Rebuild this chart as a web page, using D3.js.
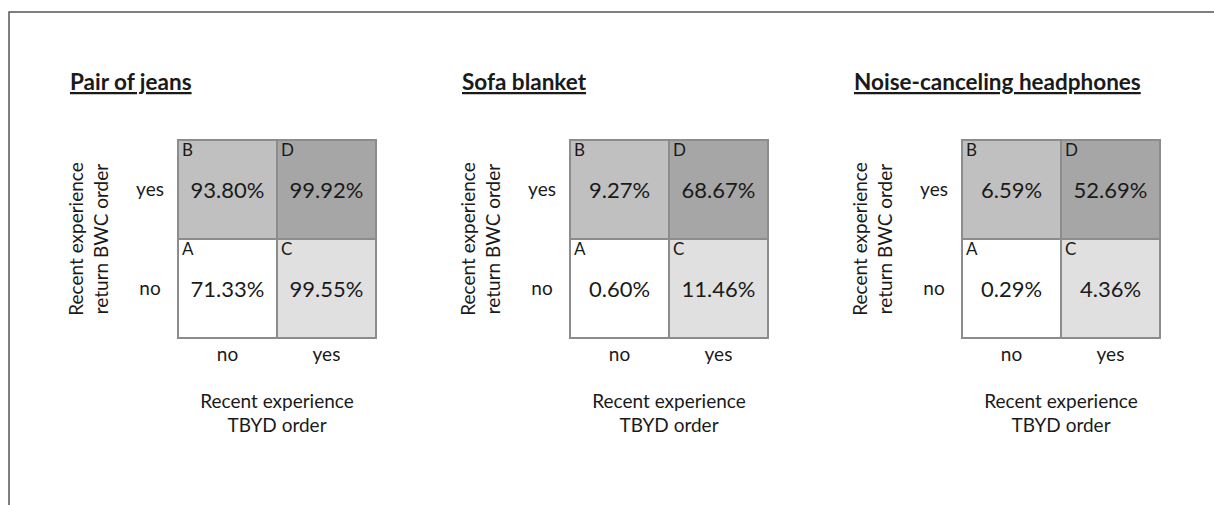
<!DOCTYPE html>
<html>
<head>
<meta charset="utf-8">
<script src="https://cdn.jsdelivr.net/npm/d3@7"></script>
<style>
  body { margin: 0; background: #fff; }
  svg { display: block; font-family: Lato, "Open Sans", sans-serif; }
  text { fill: #1a1a1a; }
</style>
</head>
<body>
<svg width="1214" height="505"></svg>
<script>
// data
const products = ["Pair of jeans", "Sofa blanket", "Noise-canceling headphones"];
const tbydLevels = ["no", "yes"];   // x: recent TBYD order
const bwcLevels = ["yes", "no"];    // y: recent return BWC order (top to bottom)
const cellLetters = ["A", "B", "C", "D"];
const cellTbyd = ["no", "no", "yes", "yes"];
const cellBwc = ["no", "yes", "no", "yes"];
const jeansValues = [71.33, 93.80, 99.55, 99.92];
const blanketValues = [0.60, 9.27, 11.46, 68.67];
const headphoneValues = [0.29, 6.59, 4.36, 52.69];
const allValues = [jeansValues, blanketValues, headphoneValues];

const svg = d3.select("svg");

// frame round the figure
svg.append("path")
  .attr("d", "M9,505 L9,12 L1214,12")
  .attr("fill", "none")
  .attr("stroke", "#555")
  .attr("stroke-width", 1.5);

const cellFill = d3.scaleOrdinal()
  .domain(cellLetters)
  .range(["#ffffff", "#c0c0c0", "#e0e0e0", "#a6a6a6"]);

const panelX = d3.scalePoint().domain(products).range([178, 962]);
const gridSize = 198;

products.forEach((name, p) => {
  const g = svg.append("g")
    .attr("transform", `translate(${panelX(name)},140)`);

  const x = d3.scaleBand().domain(tbydLevels).range([0, gridSize]);
  const y = d3.scaleBand().domain(bwcLevels).range([0, gridSize]);

  const cells = cellLetters.map((c, i) => ({
    letter: c, tbyd: cellTbyd[i], bwc: cellBwc[i], value: allValues[p][i]
  }));

  // title
  g.append("text")
    .attr("x", -108).attr("y", -50)
    .attr("font-size", 22.5).attr("font-weight", "bold")
    .attr("text-decoration", "underline")
    .text(name);

  const cg = g.selectAll("g.cell")
    .data(cells)
    .enter()
    .append("g")
    .attr("class", "cell")
    .attr("transform", d => `translate(${x(d.tbyd)},${y(d.bwc)})`);

  cg.append("rect")
    .attr("width", x.bandwidth())
    .attr("height", y.bandwidth())
    .attr("fill", d => cellFill(d.letter))
    .attr("stroke", "#8c8c8c")
    .attr("stroke-width", 2);

  cg.append("text")
    .attr("x", 4).attr("y", 16)
    .attr("font-size", 17)
    .text(d => d.letter);

  cg.append("text")
    .attr("x", x.bandwidth() / 2)
    .attr("y", y.bandwidth() / 2 + 8)
    .attr("text-anchor", "middle")
    .attr("font-size", 22)
    .text(d => d.value.toFixed(2) + "%");

  // category labels
  g.selectAll("text.ylab")
    .data(bwcLevels)
    .enter().append("text")
    .attr("class", "ylab")
    .attr("x", -28)
    .attr("y", d => y(d) + y.bandwidth() / 2 + 6)
    .attr("text-anchor", "middle")
    .attr("font-size", 19)
    .text(d => d);

  g.selectAll("text.xlab")
    .data(tbydLevels)
    .enter().append("text")
    .attr("class", "xlab")
    .attr("x", d => x(d) + x.bandwidth() / 2)
    .attr("y", gridSize + 23)
    .attr("text-anchor", "middle")
    .attr("font-size", 19)
    .text(d => d);

  // axis titles
  const xt = g.append("text")
    .attr("text-anchor", "middle")
    .attr("font-size", 19);
  xt.append("tspan").attr("x", gridSize / 2).attr("y", gridSize + 70).text("Recent experience");
  xt.append("tspan").attr("x", gridSize / 2).attr("y", gridSize + 94).text("TBYD order");

  const yt = g.append("text")
    .attr("text-anchor", "middle")
    .attr("font-size", 19)
    .attr("transform", `translate(0,${gridSize / 2}) rotate(-90)`);
  yt.append("tspan").attr("x", 0).attr("y", -95).text("Recent experience");
  yt.append("tspan").attr("x", 0).attr("y", -70).text("return BWC order");
});
</script>
</body>
</html>
